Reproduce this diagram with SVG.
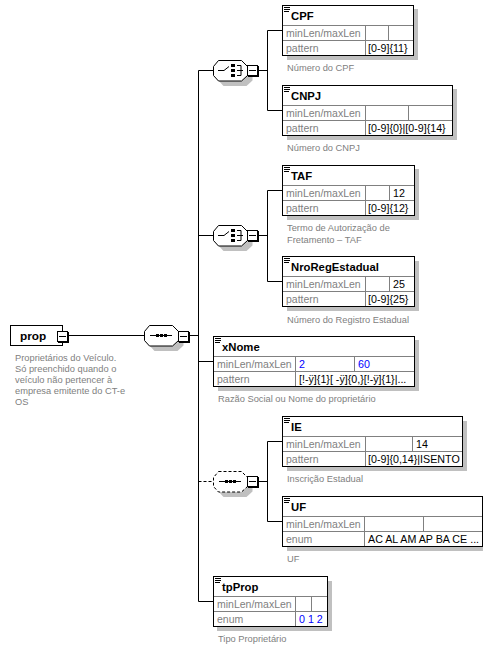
<svg xmlns="http://www.w3.org/2000/svg" width="498" height="649" viewBox="0 0 498 649">
<style>
text{font-family:"Liberation Sans",Arial,sans-serif;font-size:10.7px;fill:#000}
.n{font-weight:bold;font-size:11.3px}
.l{fill:#808080;font-size:10.5px}
.a{fill:#808080;font-size:9.3px}
.b{fill:#0000ff}
.box{fill:#fff;stroke:#000;stroke-width:1}
.sh{fill:#c0c0c0}
.g{stroke:#808080;stroke-width:1;fill:none}
.c{stroke:#000;stroke-width:1;fill:none}
.d{stroke-dasharray:3 2}
.m{fill:#fff;stroke:#000;stroke-width:1}
</style>
<defs>
<path id="menu" d="M1 2.500h6M1 4.500h6M1 6.500h5" stroke="#000" stroke-width="1" fill="none"/>
<g id="minus"><rect x="1" y="1" width="11" height="11" fill="#000"/><rect x="0.500" y="0.500" width="10" height="10" class="m"/><path d="M2 5.500h7" stroke="#000"/></g>
<path id="oct" d="M5.500 0.500H28.500L34.500 6.500V15.500L28.500 21H5.500L0.500 15.500V6.500Z"/>
<g id="seqi"><path d="M6 10.500H28" stroke="#000"/><rect x="12" y="9" width="3" height="3"/><rect x="16" y="9" width="3" height="3"/><rect x="20" y="9" width="3" height="3"/></g>
<g id="choi"><path d="M5 10.500H11L16 6.500M24 5.500H28V15.500H24M24 10.500H30" stroke="#000" fill="none"/><rect x="18" y="4" width="4" height="3"/><rect x="18" y="9" width="4" height="3"/><rect x="18" y="14" width="4" height="3"/></g>
</defs>
<g id="connectors">
<path class="c" d="M67 335.500H144M189 335.500H198.500M198.500 70.500V601.500M198.500 70.500H213M198.500 235.500H213M198.500 361.500H213M198.500 601.500H213"/>
<path class="c d" d="M198.500 481.500H213"/>
<path class="c" d="M258 70.500H267.500M267.500 30.500V110.500M267.500 30.500H283M267.500 110.500H283"/>
<path class="c" d="M258 235.500H267.500M267.500 190.500V281.500M267.500 190.500H283M267.500 281.500H283"/>
<path class="c" d="M258 481.500H267.500M267.500 441.500V521.500M267.500 441.500H283M267.500 521.500H283"/>
</g>
<g id="prop">
<rect class="box" x="10.500" y="325.500" width="52" height="20"/>
<text class="n" x="20" y="340" style="font-size:11.8px">prop</text>
<use href="#minus" x="57" y="331"/>
<text class="a" x="15" y="361">Proprietários do Veículo.</text>
<text class="a" x="15" y="372">Só preenchido quando o</text>
<text class="a" x="15" y="383">veículo não pertencer à</text>
<text class="a" x="15" y="394">empresa emitente do CT-e</text>
<text class="a" x="15" y="405">OS</text>
</g>
<g id="seq-main">
<use href="#oct" x="149" y="330" class="sh"/>
<use href="#oct" x="144" y="325" fill="#fff" stroke="#000"/>
<use href="#seqi" x="144" y="325"/>
<use href="#minus" x="178" y="331"/>
</g>
<g id="choice-1">
<use href="#oct" x="218" y="65" class="sh"/>
<use href="#oct" x="213" y="60" fill="#fff" stroke="#000"/>
<use href="#choi" x="213" y="60"/>
<use href="#minus" x="247" y="65"/>
</g>
<g id="choice-2">
<use href="#oct" x="218" y="230" class="sh"/>
<use href="#oct" x="213" y="225" fill="#fff" stroke="#000"/>
<use href="#choi" x="213" y="225"/>
<use href="#minus" x="247" y="230"/>
</g>
<g id="seq-opt">
<use href="#oct" x="218" y="476" class="sh"/>
<use href="#oct" x="213" y="471" fill="#fff" stroke="#000" stroke-dasharray="3 2"/>
<use href="#seqi" x="213" y="471"/>
<use href="#minus" x="247" y="476"/>
</g>
<g id="CPF">
<rect class="sh" x="287" y="9" width="131" height="51"/>
<rect class="box" x="282.500" y="5.500" width="131" height="50"/>
<path class="g" d="M283 25.500H413M283 40.500H413M365.500 26V55M388.500 26V40"/>
<use href="#menu" x="283" y="5"/>
<text class="n" x="291" y="20">CPF</text>
<text class="l" x="286" y="37">minLen/maxLen</text><text class="l" x="286" y="52">pattern</text>
<text x="368" y="52">[0-9]{11}</text>
<text class="a" x="287" y="71">Número do CPF</text>
</g>
<g id="CNPJ">
<rect class="sh" x="287" y="89" width="170" height="51"/>
<rect class="box" x="282.500" y="85.500" width="170" height="50"/>
<path class="g" d="M283 105.500H452M283 120.500H452M365.500 106V135M408.500 106V120"/>
<use href="#menu" x="283" y="85"/>
<text class="n" x="291" y="100">CNPJ</text>
<text class="l" x="286" y="117">minLen/maxLen</text><text class="l" x="286" y="132">pattern</text>
<text x="368" y="132">[0-9]{0}|[0-9]{14}</text>
<text class="a" x="287" y="151">Número do CNPJ</text>
</g>
<g id="TAF">
<rect class="sh" x="287" y="169" width="132" height="51"/>
<rect class="box" x="282.500" y="165.500" width="132" height="50"/>
<path class="g" d="M283 185.500H414M283 200.500H414M365.500 186V215M389.500 186V200"/>
<use href="#menu" x="283" y="165"/>
<text class="n" x="291" y="180">TAF</text>
<text class="l" x="286" y="197">minLen/maxLen</text><text class="l" x="286" y="212">pattern</text>
<text x="393" y="197">12</text><text x="368" y="212">[0-9]{12}</text>
<text class="a" x="287" y="231">Termo de Autorização de</text>
<text class="a" x="287" y="243">Fretamento – TAF</text>
</g>
<g id="NroRegEstadual">
<rect class="sh" x="287" y="261" width="132" height="50"/>
<rect class="box" x="282.500" y="256.500" width="132" height="50"/>
<path class="g" d="M283 276.500H414M283 291.500H414M365.500 277V306M389.500 277V291"/>
<use href="#menu" x="283" y="256"/>
<text class="n" x="291" y="271">NroRegEstadual</text>
<text class="l" x="286" y="288">minLen/maxLen</text><text class="l" x="286" y="303">pattern</text>
<text x="393" y="288">25</text><text x="368" y="303">[0-9]{25}</text>
<text class="a" x="287" y="323">Número do Registro Estadual</text>
</g>
<g id="xNome">
<rect class="sh" x="218" y="340" width="201" height="51"/>
<rect class="box" x="213.500" y="336.500" width="201" height="50"/>
<path class="g" d="M214 356.500H414M214 371.500H414M295.500 357V386M354.500 357V371"/>
<use href="#menu" x="214" y="336"/>
<text class="n" x="222" y="351">xNome</text>
<text class="l" x="217" y="368">minLen/maxLen</text><text class="l" x="217" y="383">pattern</text>
<text class="b" x="299" y="368">2</text><text class="b" x="358" y="368">60</text>
<text x="299" y="383">[!-ÿ]{1}[ -ÿ]{0,}[!-ÿ]{1}|...</text>
<text class="a" x="218" y="402">Razão Social ou Nome do proprietário</text>
</g>
<g id="IE">
<rect class="sh" x="287" y="421" width="180" height="50"/>
<rect class="box" x="282.500" y="416.500" width="180" height="50"/>
<path class="g" d="M283 436.500H462M283 451.500H462M365.500 437V466M412.500 437V451"/>
<use href="#menu" x="283" y="416"/>
<text class="n" x="291" y="431">IE</text>
<text class="l" x="286" y="448">minLen/maxLen</text><text class="l" x="286" y="463">pattern</text>
<text x="416" y="448">14</text><text x="368" y="463">[0-9]{0,14}|ISENTO</text>
<text class="a" x="287" y="482">Inscrição Estadual</text>
</g>
<g id="UF">
<rect class="sh" x="287" y="500" width="196" height="51"/>
<rect class="box" x="282.500" y="496.500" width="200" height="50"/>
<path class="g" d="M283 516.500H482M283 531.500H482M364.500 517V546M423.500 517V531"/>
<use href="#menu" x="283" y="496"/>
<text class="n" x="291" y="511">UF</text>
<text class="l" x="286" y="528">minLen/maxLen</text><text class="l" x="286" y="543">enum</text>
<text x="368" y="543">AC AL AM AP BA CE ...</text>
<text class="a" x="287" y="562">UF</text>
</g>
<g id="tpProp">
<rect class="sh" x="217" y="581" width="115" height="50"/>
<rect class="box" x="213.500" y="576.500" width="114" height="50"/>
<path class="g" d="M214 596.500H327M214 611.500H327M295.500 597V626M311.500 597V611"/>
<use href="#menu" x="214" y="576"/>
<text class="n" x="222" y="591">tpProp</text>
<text class="l" x="217" y="608">minLen/maxLen</text><text class="l" x="217" y="623">enum</text>
<text class="b" x="299" y="623">0 1 2</text>
<text class="a" x="218" y="642">Tipo Proprietário</text>
</g>
</svg>
